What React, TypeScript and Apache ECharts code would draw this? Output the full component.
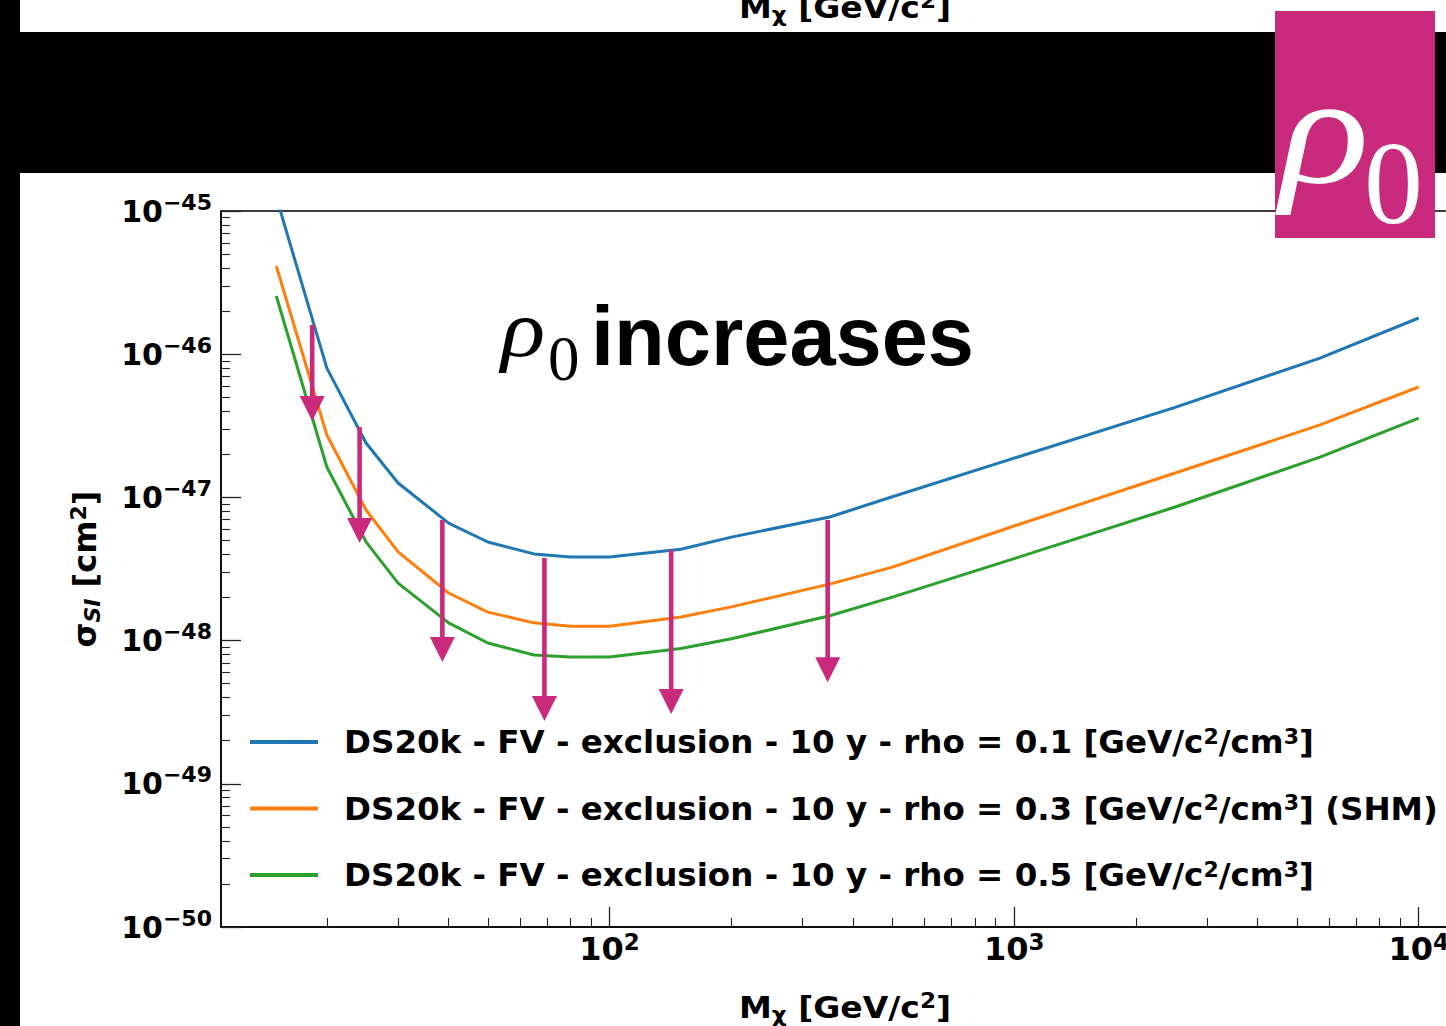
import React, { useEffect, useRef } from 'react';
import * as echarts from 'echarts';

// WIMP mass grid [GeV/c^2]
const masses = [15, 20, 25, 30, 40, 50, 65, 80, 100, 150, 200, 350, 500, 1000, 2500, 5700, 10000];
// exclusion cross sections [cm^2]
const rho01 = [1.25e-45, 8.0e-47, 2.4e-47, 1.26e-47, 6.62e-48, 4.88e-48, 4.03e-48, 3.84e-48, 3.84e-48, 4.35e-48, 5.28e-48, 7.3e-48, 1.01e-47, 1.88e-47, 4.25e-47, 9.4e-47, 1.79e-46];
const rho03 = [4.13e-46, 2.73e-47, 8.17e-48, 4.16e-48, 2.15e-48, 1.58e-48, 1.33e-48, 1.26e-48, 1.26e-48, 1.46e-48, 1.72e-48, 2.48e-48, 3.26e-48, 6.31e-48, 1.48e-47, 3.21e-47, 5.9e-47];
const rho05 = [2.55e-46, 1.63e-47, 4.89e-48, 2.52e-48, 1.33e-48, 9.62e-49, 7.93e-49, 7.67e-49, 7.67e-49, 8.8e-49, 1.03e-48, 1.49e-48, 2.01e-48, 3.74e-48, 8.57e-48, 1.91e-47, 3.58e-47];

const seriesNames = [
  'DS20k - FV - exclusion - 10 y - rho = 0.1 [GeV/c²/cm³]',
  'DS20k - FV - exclusion - 10 y - rho = 0.3 [GeV/c²/cm³] (SHM)',
  'DS20k - FV - exclusion - 10 y - rho = 0.5 [GeV/c²/cm³]',
];
const seriesColors = ['#1f77b4', '#ff7f0e', '#2ca02c'];

// arrows: mass, start (top) and end (tip) cross sections [cm^2]
const arrowMass = [18.4, 24.1, 38.6, 69, 142, 346];
const arrowFrom = [1.6e-46, 3.1e-47, 6.95e-48, 3.78e-48, 4.3e-48, 6.95e-48];
const arrowTo = [3.42e-47, 4.81e-48, 7.1e-49, 2.75e-49, 3.07e-49, 5.12e-49];

const xMajorTicks = [100, 1000, 10000];
const xMinorTicks = [20, 30, 40, 50, 60, 70, 80, 90, 200, 300, 400, 500, 600, 700, 800, 900, 2000, 3000, 4000, 5000, 6000, 7000, 8000, 9000];
const yMajorTicks = [1e-50, 1e-49, 1e-48, 1e-47, 1e-46, 1e-45];
const yMinorMultipliers = [2, 3, 4, 5, 6, 7, 8, 9];
const yDecades = [1e-50, 1e-49, 1e-48, 1e-47, 1e-46];

const X_MIN = 10.95;
const X_MAX = 13700;
const Y_MIN = 1e-50;
const Y_MAX = 1e-45;
// the y axis works in units of 1e-50 cm^2 (ECharts rounds tick values below 1e-10)
const Y_UNIT_EXP = -50;
const Y_UNIT = Math.pow(10, Y_UNIT_EXP);
const toAxis = (v: number) => parseFloat((v / Y_UNIT).toPrecision(8));

const MAG = '#c92a7b';
const FONT = 'DejaVu Sans';

const yMinorTicks: number[] = [];
yDecades.forEach((d) => yMinorMultipliers.forEach((m) => yMinorTicks.push(m * d)));

export default function App() {
  const ref = useRef<HTMLDivElement>(null);
  useEffect(() => {
    const chart = echarts.init(ref.current!, null, { renderer: 'svg' });

    const lineSeries = [rho01, rho03, rho05].map((vals, i) => ({
      type: 'line',
      name: seriesNames[i],
      data: masses.map((m, j) => [m, toAxis(vals[j])]),
      symbol: 'none',
      showSymbol: false,
      clip: true,
      z: 2,
      lineStyle: { color: seriesColors[i], width: 3 },
      itemStyle: { color: seriesColors[i] },
    }));

    const arrowSeries = {
      type: 'custom',
      name: 'arrows',
      z: 5,
      clip: false,
      encode: { x: 0, y: [1, 2] },
      data: arrowMass.map((m, i) => [m, toAxis(arrowFrom[i]), toAxis(arrowTo[i])]),
      renderItem: (params: any, api: any) => {
        const p0 = api.coord([api.value(0), api.value(1)]);
        const p1 = api.coord([api.value(0), api.value(2)]);
        const headL = 25;
        const headW = 25;
        return {
          type: 'group',
          children: [
            {
              type: 'line',
              shape: { x1: p0[0], y1: p0[1], x2: p1[0], y2: p1[1] - headL + 2 },
              style: { stroke: MAG, lineWidth: 4.6 },
            },
            {
              type: 'polygon',
              shape: {
                points: [
                  [p1[0] - headW / 2, p1[1] - headL],
                  [p1[0] + headW / 2, p1[1] - headL],
                  [p1[0], p1[1]],
                ],
              },
              style: { fill: MAG },
            },
          ],
        };
      },
    };

    const xLabelRich = {
      b: { fontSize: 32, fontWeight: 'bold', fontFamily: FONT, color: '#000', lineHeight: 32 },
      s: { fontSize: 23, fontWeight: 'bold', fontFamily: FONT, color: '#000', lineHeight: 23, padding: [0, 0, 14, 0] },
    };
    const yLabelRich = {
      b: { fontSize: 30, fontWeight: 'bold', fontFamily: FONT, color: '#000', lineHeight: 30 },
      s: { fontSize: 22, fontWeight: 'bold', fontFamily: FONT, color: '#000', lineHeight: 22, padding: [0, 0, 18, 0] },
    };
    const expText = (e: number) => '{b|10}{s|' + (e < 0 ? '\u2212' + Math.abs(e) : String(e)) + '}';
    const xLabel = (v: number) => expText(Math.round(Math.log10(v)));
    const yLabel = (v: number) => expText(Math.round(Math.log10(v)) + Y_UNIT_EXP);

    const titleRich = {
      a: { fontSize: 30, fontWeight: 'bold', fontFamily: FONT, color: '#000' },
      sub: { fontSize: 21, fontWeight: 'bold', fontFamily: FONT, color: '#000', padding: [14, 0, 0, 0] },
      sup: { fontSize: 21, fontWeight: 'bold', fontFamily: FONT, color: '#000', padding: [0, 0, 14, 0] },
    };
    const yTitleRich = {
      a: { fontSize: 32, fontWeight: 'bold', fontFamily: FONT, color: '#000' },
      sub: { fontSize: 22, fontWeight: 'bold', fontStyle: 'italic', fontFamily: FONT, color: '#000', padding: [14, 0, 0, 0] },
      sup: { fontSize: 22, fontWeight: 'bold', fontFamily: FONT, color: '#000', padding: [0, 0, 14, 0] },
    };
    const xTitle = '{a|M}{sub|\u03c7}{a| [GeV/c}{sup|2}{a|]}';

    const legendRich = {
      s: { fontSize: 22, fontWeight: 'bold', fontFamily: FONT, color: '#000', padding: [0, 0, 12, 0] },
    };

    const option: any = {
      animation: false,
      backgroundColor: '#ffffff',
      grid: {
        left: 221,
        top: 211,
        width: 1253,
        height: 716,
        show: true,
        borderColor: '#000',
        borderWidth: 1.5,
        backgroundColor: 'transparent',
        containLabel: false,
      },
      xAxis: [
        {
          type: 'log',
          logBase: 10,
          min: X_MIN,
          max: X_MAX,
          position: 'bottom',
          axisLine: { show: true, lineStyle: { color: '#000', width: 1.5 } },
          axisTick: { show: true, inside: true, length: 20, customValues: xMajorTicks, lineStyle: { color: '#222', width: 1.3 } },
          axisLabel: { show: true, customValues: xMajorTicks, formatter: xLabel, rich: xLabelRich, margin: 6 },
          splitLine: { show: false },
          minorTick: { show: false },
        },
        {
          type: 'log',
          logBase: 10,
          min: X_MIN,
          max: X_MAX,
          position: 'bottom',
          axisLine: { show: false },
          axisTick: { show: true, inside: true, length: 9, customValues: xMinorTicks, lineStyle: { color: '#222', width: 1.1 } },
          axisLabel: { show: false },
          splitLine: { show: false },
        },
      ],
      yAxis: [
        {
          type: 'log',
          logBase: 10,
          min: toAxis(Y_MIN),
          max: toAxis(Y_MAX),
          position: 'left',
          axisLine: { show: true, lineStyle: { color: '#000', width: 1.5 } },
          axisTick: { show: true, inside: true, length: 20, customValues: yMajorTicks.map(toAxis), lineStyle: { color: '#222', width: 1.3 } },
          axisLabel: { show: true, customValues: yMajorTicks.map(toAxis), formatter: yLabel, rich: yLabelRich, margin: 9 },
          splitLine: { show: false },
        },
        {
          type: 'log',
          logBase: 10,
          min: toAxis(Y_MIN),
          max: toAxis(Y_MAX),
          position: 'left',
          axisLine: { show: false },
          axisTick: { show: true, inside: true, length: 9, customValues: yMinorTicks.map(toAxis), lineStyle: { color: '#222', width: 1.1 } },
          axisLabel: { show: false },
          splitLine: { show: false },
        },
      ],
      legend: {
        data: seriesNames,
        orient: 'vertical',
        left: 250,
        top: 725,
        padding: 0,
        icon: 'rect',
        itemWidth: 68,
        itemHeight: 4,
        itemGap: 32.5,
        selectedMode: false,
        formatter: (name: string) => name.replace('²', '{s|2}').replace('³', '{s|3}'),
        textStyle: { fontFamily: FONT, fontWeight: 'bold', fontSize: 32.5, color: '#000', lineHeight: 34, padding: [0, 0, 0, 21], rich: legendRich },
      },
      series: [...lineSeries, arrowSeries],
      graphic: [
        { type: 'rect', z: 100, shape: { x: 0, y: 32, width: 1446, height: 141 }, style: { fill: '#000' } },
        { type: 'rect', z: 100, shape: { x: 0, y: 0, width: 20, height: 1026 }, style: { fill: '#000' } },
        { type: 'text', z: 100, x: 845, y: 8, scaleX: 1.1, style: { text: xTitle, rich: titleRich, align: 'center', verticalAlign: 'middle', textAlign: 'center', textVerticalAlign: 'middle' } },
        { type: 'text', z: 100, x: 845, y: 1008, scaleX: 1.1, style: { text: xTitle, rich: titleRich, align: 'center', verticalAlign: 'middle', textAlign: 'center', textVerticalAlign: 'middle' } },
        {
          type: 'text', z: 100, x: 85, y: 569, rotation: Math.PI / 2,
          style: { text: '{a|\u03c3}{sub|SI}{a| [cm}{sup|2}{a|]}', rich: yTitleRich, align: 'center', verticalAlign: 'middle', textAlign: 'center', textVerticalAlign: 'middle' },
        },
        { type: 'rect', z: 101, shape: { x: 1275, y: 11, width: 160, height: 227 }, style: { fill: MAG } },
        {
          type: 'text', z: 102, x: 1280, y: 129, scaleX: 1.2,
          style: { text: '\u03c1', fill: '#fff', fontFamily: 'Liberation Serif', fontStyle: 'italic', fontSize: 155, align: 'left', verticalAlign: 'middle', textAlign: 'left', textVerticalAlign: 'middle' },
        },
        {
          type: 'text', z: 102, x: 1364, y: 183,
          style: { text: '0', fill: '#fff', fontFamily: 'Liberation Serif', fontSize: 118, align: 'left', verticalAlign: 'middle', textAlign: 'left', textVerticalAlign: 'middle' },
        },
        {
          type: 'text', z: 102, x: 501, y: 329, scaleX: 1.15,
          style: { text: '\u03c1', fill: '#000', fontFamily: 'Liberation Serif', fontStyle: 'italic', fontSize: 80, align: 'left', verticalAlign: 'middle', textAlign: 'left', textVerticalAlign: 'middle' },
        },
        {
          type: 'text', z: 102, x: 548, y: 359,
          style: { text: '0', fill: '#000', fontFamily: 'Liberation Serif', fontSize: 63, align: 'left', verticalAlign: 'middle', textAlign: 'left', textVerticalAlign: 'middle' },
        },
        {
          type: 'text', z: 102, x: 591, y: 336,
          style: { text: 'increases', fill: '#000', fontFamily: 'Liberation Sans', fontWeight: 'bold', fontSize: 83, align: 'left', verticalAlign: 'middle', textAlign: 'left', textVerticalAlign: 'middle' },
        },
      ],
    };

    chart.setOption(option);
    return () => chart.dispose();
  }, []);

  return (
    <div style={{ position: 'fixed', left: 0, top: 0, width: 1446, height: 1026, overflow: 'hidden', background: '#ffffff' }}>
      <div ref={ref} style={{ width: 1480, height: 1026 }} />
    </div>
  );
}
